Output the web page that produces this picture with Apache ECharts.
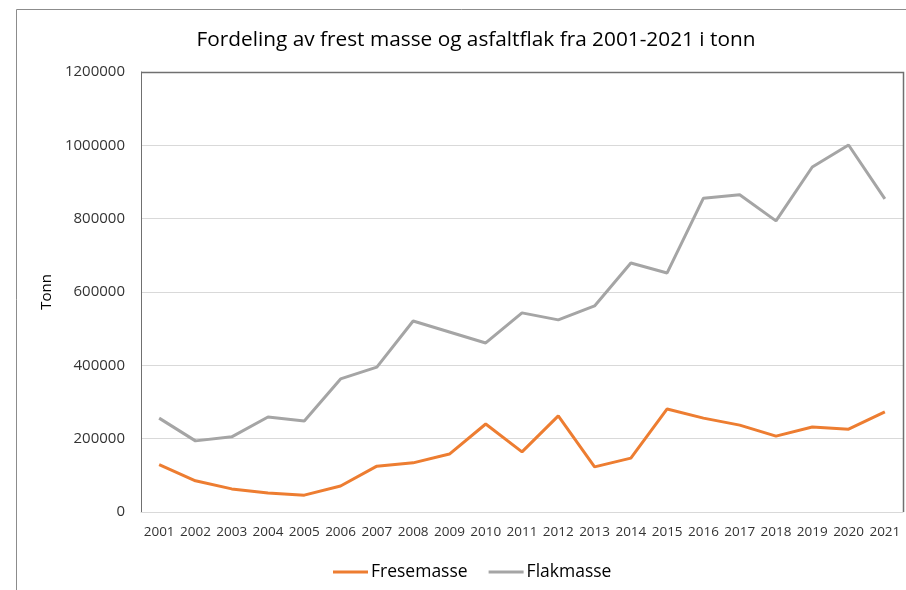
<!DOCTYPE html>
<html>
<head>
<meta charset="utf-8">
<script src="https://cdn.jsdelivr.net/npm/echarts@6/dist/echarts.min.js"></script>
<style>
  html, body { margin: 0; padding: 0; background: #fff; }
  #chart { width: 906px; height: 590px; }
</style>
</head>
<body>
<div id="chart"></div>
<script>
// år på x-aksen
const years = ['2001', '2002', '2003', '2004', '2005', '2006', '2007', '2008', '2009', '2010',
  '2011', '2012', '2013', '2014', '2015', '2016', '2017', '2018', '2019', '2020', '2021'];
// frest masse (tonn)
const fresemasse = [129000, 85000, 63000, 52000, 46000, 71000, 125000, 134000, 158000, 240000,
  164000, 262000, 123000, 147000, 281000, 256000, 237000, 207000, 232000, 226000, 273000];
// asfaltflak (tonn)
const flakmasse = [256000, 194000, 205000, 259000, 248000, 363000, 395000, 521000, 491000, 461000,
  543000, 524000, 562000, 679000, 652000, 856000, 865000, 794000, 941000, 1001000, 854000];
const yTicks = { min: 0, max: 1200000, interval: 200000 };

const font = '"Open Sans", "Noto Sans", sans-serif';
let chart = echarts.init(document.getElementById('chart'));

let option = {
  backgroundColor: '#fff',
  animation: false,
  textStyle: { fontFamily: font },
  title: {
    text: 'Fordeling av frest masse og asfaltflak fra 2001-2021 i tonn',
    left: 471,
    textAlign: 'center',
    top: 25,
    textStyle: { fontFamily: font, fontSize: 20.8, fontWeight: 'normal', color: '#000' }
  },
  legend: {
    data: ['Fresemasse', 'Flakmasse'],
    left: 328,
    top: 558,
    icon: 'rect',
    itemWidth: 35,
    itemHeight: 3,
    itemGap: 21,
    textStyle: { fontFamily: font, fontSize: 17.5, color: '#000', padding: [0, 0, 0, -2] }
  },
  grid: {
    left: 141,
    top: 72,
    right: 3,
    bottom: 78
  },
  xAxis: {
    type: 'category',
    data: years,
    boundaryGap: true,
    axisLine: { show: true, lineStyle: { color: '#d9d9d9', width: 1 } },
    axisTick: { show: false },
    axisLabel: { fontFamily: font, fontSize: 13.5, color: '#333', margin: 13, interval: 0 }
  },
  yAxis: {
    type: 'value',
    min: yTicks.min,
    max: yTicks.max,
    interval: yTicks.interval,
    name: 'Tonn',
    nameLocation: 'middle',
    nameRotate: 90,
    nameGap: 80,
    nameTextStyle: { fontFamily: font, fontSize: 15, color: '#000' },
    axisLine: { show: true, lineStyle: { color: '#707070', width: 1 } },
    axisTick: { show: false },
    axisLabel: {
      fontFamily: font, fontSize: 15, color: '#333', margin: 16,
      formatter: v => String(v)
    },
    splitLine: { lineStyle: { color: '#d9d9d9', width: 1 } }
  },
  series: [
    {
      name: 'Fresemasse',
      type: 'line',
      data: fresemasse,
      showSymbol: false,
      symbol: 'none',
      lineStyle: { color: '#ED7D31', width: 3 },
      itemStyle: { color: '#ED7D31' }
    },
    {
      name: 'Flakmasse',
      type: 'line',
      data: flakmasse,
      showSymbol: false,
      symbol: 'none',
      lineStyle: { color: '#A5A5A5', width: 3 },
      itemStyle: { color: '#A5A5A5' }
    }
  ],
  // ytre ramme fra skjermbildet og plottrammen oppe/til høyre
  graphic: [
    { type: 'line', shape: { x1: 16.5, y1: 9.5, x2: 906, y2: 9.5 }, style: { stroke: '#8c8c8c', lineWidth: 1 } },
    { type: 'line', shape: { x1: 16.5, y1: 9.5, x2: 16.5, y2: 590 }, style: { stroke: '#8c8c8c', lineWidth: 1 } },
    {
      type: 'polyline', z: 10,
      shape: { points: [[141, 72.5], [903.5, 72.5], [903.5, 512]] },
      style: { stroke: '#707070', lineWidth: 1.5, fill: null }
    }
  ]
};
chart.setOption(option);
</script>
</body>
</html>
